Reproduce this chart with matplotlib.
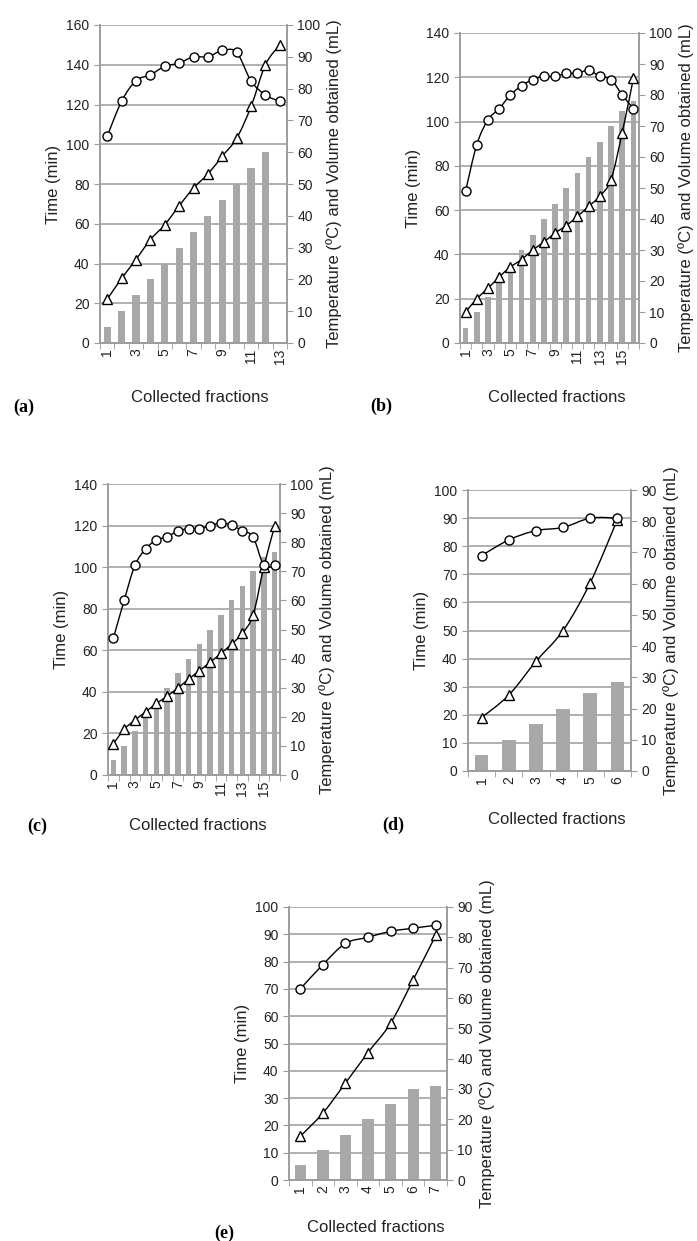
import numpy as np
import matplotlib.pyplot as plt
from matplotlib.ticker import MultipleLocator
from matplotlib.path import Path
from matplotlib.patches import PathPatch

plt.rcParams['font.family'] = ['Liberation Sans', 'DejaVu Sans']

# (a)
a_time = [22, 32.5, 42, 52, 59.5, 69, 78, 85, 94, 103, 119, 140, 150]
a_temp = [65, 76, 82.5, 84.3, 87, 88, 90, 90, 92, 91.4, 82.4, 78, 76]
a_vol = [5, 10, 15, 20, 25, 30, 35, 40, 45, 50, 55, 60]
# (b)
b_time = [14, 20, 24.7, 29.8, 34.3, 37.7, 42, 45.6, 49.7, 53, 57.2, 61.7, 66.3, 73.8, 95, 119.5]
b_temp = [49, 64, 72, 75.6, 80, 83, 85, 86, 86, 87, 87, 88, 86, 85, 80, 75.6]
b_vol = [5, 10, 15, 20, 25, 30, 35, 40, 45, 50, 55, 60, 65, 70, 75, 78]
# (c)
c_time = [15, 22, 26.4, 30.4, 34.4, 37.9, 41.9, 46.1, 50.2, 54.2, 58.5, 63, 68.2, 77, 100.3, 119.6]
c_temp = [47, 60, 72, 77.7, 80.8, 81.8, 83.9, 84.6, 84.6, 85.7, 86.6, 85.9, 83.9, 81.8, 72, 72]
c_vol = [5, 10, 15, 20, 25, 30, 35, 40, 45, 50, 55, 60, 65, 70, 75, 76.5]
# (d)
d_time = [19, 27, 39, 50, 67, 89.5]
d_temp = [69, 74, 77, 78, 81, 81]
d_vol = [5, 10, 15, 20, 25, 28.5]
# (e)
e_time = [16, 24.5, 35.5, 46.7, 57.4, 73.3, 89.6]
e_temp = [63, 71, 78, 80, 82, 83, 84]
e_vol = [5, 10, 15, 20, 25, 30, 31]

W, H = 697, 1241
fig = plt.figure(figsize=(W / 100, H / 100), dpi=100)

GRAY = '#9a9a9a'
BARC = '#a8a8a8'
TXT = '#222222'
RLABEL = 'Temperature (ºC) and Volume obtained (mL)'


def smooth_line(ax, x, y, transform):
    # smoothed line through the points (cubic bezier, catmull-rom style handles)
    p = np.column_stack([x, y]).astype(float)
    ext = np.vstack([p[:1], p, p[-1:]])
    verts = [p[0]]
    codes = [Path.MOVETO]
    for i in range(len(p) - 1):
        c1 = ext[i + 1] + (ext[i + 2] - ext[i]) / 6
        c2 = ext[i + 2] - (ext[i + 3] - ext[i + 1]) / 6
        verts += [c1, c2, p[i + 1]]
        codes += [Path.CURVE4] * 3
    ax.add_patch(PathPatch(Path(verts, codes), fill=False, lw=1, ec='black',
                           transform=transform, zorder=3))


def panel(box, time, temp, vol, tmax, tstep, vmax, step_lab, letter, letter_xy, xlab_xy):
    x0, x1, y0, y1 = box
    ax = fig.add_axes([x0 / W, 1 - y1 / H, (x1 - x0) / W, (y1 - y0) / H])
    ax2 = ax.twinx()
    n = len(time)
    x = np.arange(1, n + 1)

    ax.set_xlim(0.5, n + 0.5)
    ax.set_ylim(0, tmax)
    ax.yaxis.set_major_locator(MultipleLocator(tstep))
    ax2.set_ylim(0, vmax)
    ax2.yaxis.set_major_locator(MultipleLocator(10))
    ax.grid(axis='y', color=GRAY, lw=1.1)
    ax.set_axisbelow(True)

    ax2.bar(x[:len(vol)], vol, width=0.5, color=BARC, zorder=1)
    smooth_line(ax2, x, time, ax.transData)
    smooth_line(ax2, x, temp, ax2.transData)
    ax2.plot(x, time, ls='none', marker='^', ms=6.5, mfc='white',
             mec='black', mew=1, transform=ax.transData, zorder=4)
    ax2.plot(x, temp, ls='none', marker='o', ms=6.5, mfc='white',
             mec='black', mew=1, zorder=5)

    for a in (ax, ax2):
        a.spines['top'].set_visible(False)
        for s in ('left', 'right', 'bottom'):
            a.spines[s].set_color(GRAY)
            a.spines[s].set_linewidth(1.1)
    ax.tick_params(axis='y', direction='out', length=4, color=GRAY, labelcolor=TXT, labelsize=10)
    ax2.tick_params(axis='y', direction='out', length=4, color=GRAY, labelcolor=TXT, labelsize=10)

    ax.set_xticks(x)
    ax.set_xticklabels([str(i) if (i - 1) % step_lab == 0 else '' for i in x], rotation=90)
    ax.set_xticks(np.arange(0.5, n + 1, 1), minor=True)
    ax.tick_params(axis='x', which='major', length=0, labelcolor=TXT, labelsize=10, pad=4)
    ax.tick_params(axis='x', which='minor', direction='out', length=4, color=GRAY)

    ax.set_ylabel('Time (min)', fontsize=12, color=TXT)
    ax2.set_ylabel(RLABEL, fontsize=12, color=TXT)

    fig.text(xlab_xy[0] / W, 1 - xlab_xy[1] / H, 'Collected fractions', fontsize=12,
             color=TXT, ha='center', va='center')
    fig.text(letter_xy[0] / W, 1 - letter_xy[1] / H, letter, family='Liberation Serif',
             fontsize=13, fontweight='bold', ha='center', va='center')


panel((100, 287, 25, 343), a_time, a_temp, a_vol, 160, 20, 100, 2, '(a)', (24, 407), (200, 398))
panel((460, 639, 33, 343), b_time, b_temp, b_vol, 140, 20, 100, 2, '(b)', (381, 406), (557, 398))
panel((108, 280, 484, 775), c_time, c_temp, c_vol, 140, 20, 100, 2, '(c)', (37, 826), (198, 825))
panel((468, 631, 490, 771), d_time, d_temp, d_vol, 100, 10, 90, 1, '(d)', (393, 825), (557, 819))
panel((289, 447, 907, 1180), e_time, e_temp, e_vol, 100, 10, 90, 1, '(e)', (224, 1233), (376, 1227))

fig.savefig('out.png', dpi=100)
